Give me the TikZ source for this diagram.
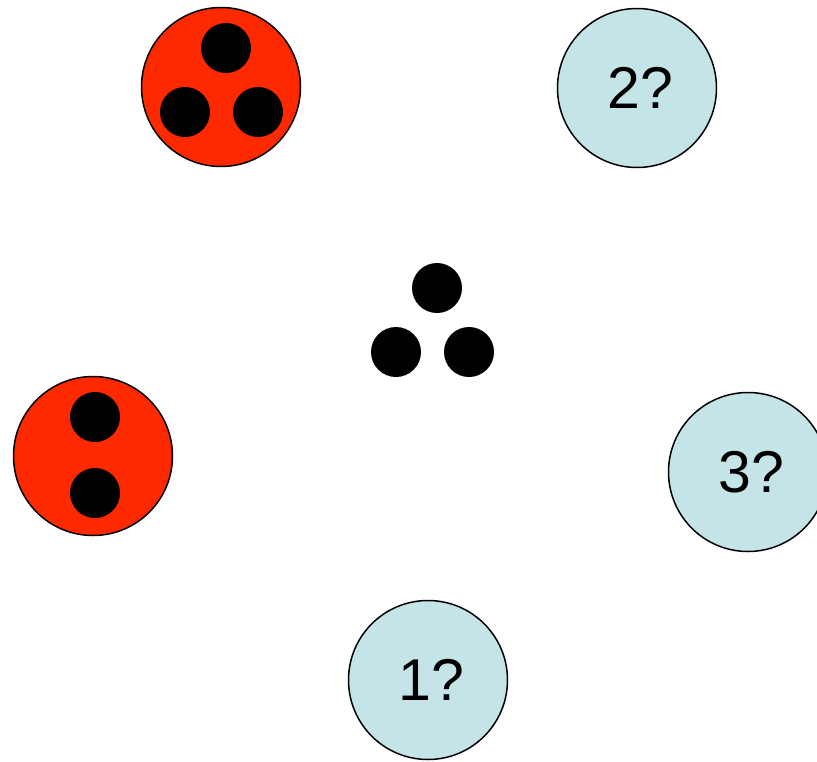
\documentclass[tikz,border=0pt]{standalone}
\usepackage{fontspec}
\setmainfont{Liberation Sans}
\usetikzlibrary{positioning}
\definecolor{bagred}{RGB}{255,41,0}
\definecolor{guessblue}{RGB}{196,228,232}

\begin{document}
\begin{tikzpicture}[
  x=1pt, y=-1pt,
  line cap=round, line join=round,
  bag/.style={circle, draw, line width=1.5pt, minimum size=159pt, inner sep=0pt},
  full/.style={bag, fill=bagred},
  guess/.style={bag, fill=guessblue, font=\fontsize{59}{62}\selectfont,
    execute at begin node={\hspace*{7pt}}},
  ball/.style={circle, fill=black, minimum size=50pt, inner sep=0pt}
]
  \clip (0,0) rectangle (817,761);
  % bags that are already filled
  \node[full] (fullA) at (221,87)  {};
  \node[full] (fullB) at (93,456)  {};
  \node[ball] (a1) at (226,48)  {};
  \node[ball] (a2) at (185,112) {};
  \node[ball] (a3) at (258,112) {};
  \node[ball] (b1) at (95,417)  {};
  \node[ball] (b2) at (95,493)  {};
  % the three loose balls in the middle
  \node[ball] (m1) at (437,288) {};
  \node[ball] (m2) at (396,352) {};
  \node[ball] (m3) at (469,352) {};
  % bags still open
  \node[guess] (g1) at (428,680) {1?};
  \node[guess] (g2) at (637,88)  {2?};
  \node[guess] (g3) at (748,472) {3?};
\end{tikzpicture}
\end{document}
